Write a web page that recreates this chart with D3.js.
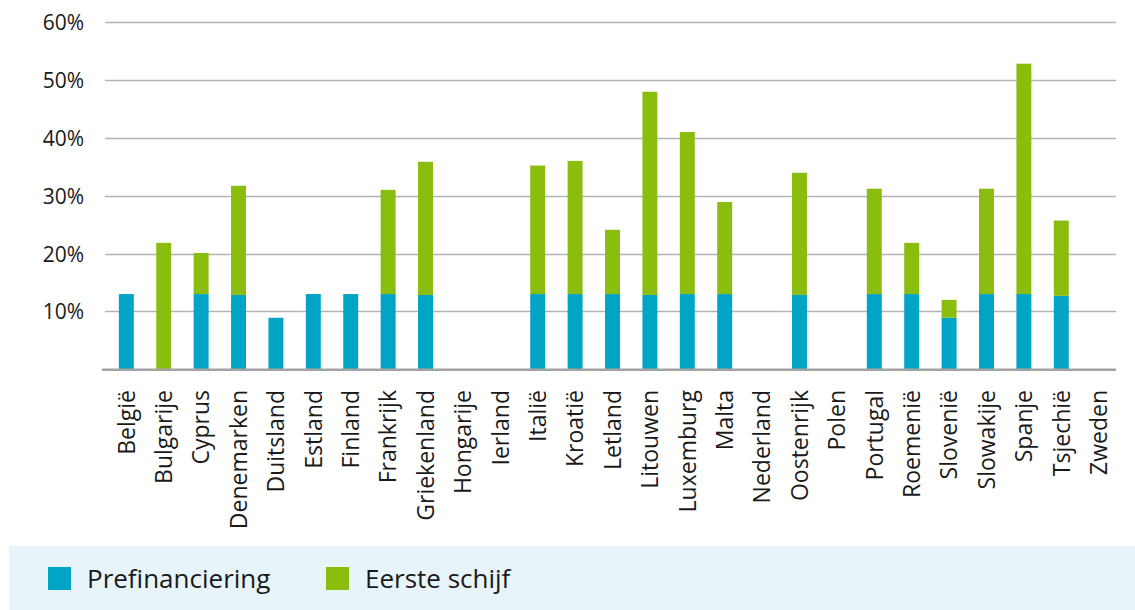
<!DOCTYPE html>
<html lang="nl">
<head>
<meta charset="UTF-8">
<title>Prefinanciering en eerste schijf per lidstaat</title>
<style>
    body {
        margin: 0;
        padding: 0;
        background: #ffffff;
        font-family: "Open Sans", Arial, sans-serif;
    }
    .grid line { stroke: #b3b3b3; stroke-width: 1.5px; }
    .y-label { font-size: 21px; fill: #1a1a1a; }
    .x-label { font-size: 23px; fill: #1a1a1a; }
    .legend-text { font-size: 26px; fill: #1a1a1a; }
</style>
</head>
<body>
<div id="chart"></div>
<script src="https://cdnjs.cloudflare.com/ajax/libs/d3/7.8.5/d3.min.js"></script>
<script>
    // Lidstaten
    const countries = ["België", "Bulgarije", "Cyprus", "Denemarken", "Duitsland", "Estland", "Finland",
        "Frankrijk", "Griekenland", "Hongarije", "Ierland", "Italië", "Kroatië", "Letland", "Litouwen",
        "Luxemburg", "Malta", "Nederland", "Oostenrijk", "Polen", "Portugal", "Roemenië", "Slovenië",
        "Slowakije", "Spanje", "Tsjechië", "Zweden"];

    // percentages
    const prefinanciering = [13.0, 0, 13.0, 12.85, 8.9, 13.0, 13.0, 13.0, 12.85, 0, 0, 13.0, 13.0, 13.0,
        12.85, 13.0, 13.0, 0, 12.85, 0, 13.0, 13.0, 8.9, 13.0, 13.0, 12.7, 0];
    const eersteSchijf = [0, 21.85, 7.1, 18.85, 0, 0, 0, 18.0, 23.0, 0, 0, 22.2, 23.0, 11.1, 35.1,
        28.0, 15.9, 0, 21.1, 0, 18.2, 8.85, 3.1, 18.2, 39.8, 13.0, 0];

    const seriesNames = ["Prefinanciering", "Eerste schijf"];
    const yTicks = [10, 20, 30, 40, 50, 60];

    const colors = { "Prefinanciering": "#00a4c5", "Eerste schijf": "#8bbd0e" };

    const width = 1135, height = 610;

    const svg = d3.select('#chart')
        .append('svg')
        .attr('width', width)
        .attr('height', height);

    const x = d3.scaleBand()
        .domain(countries)
        .range([108, 1117])
        .paddingInner(0.6)
        .paddingOuter(0.29);

    const y = d3.scaleLinear()
        .domain([0, 60])
        .range([369.3, 22]);

    // gridlines
    svg.append('g')
        .attr('class', 'grid')
        .selectAll('line')
        .data(yTicks)
        .enter()
        .append('line')
        .attr('x1', 105)
        .attr('x2', 1116)
        .attr('y1', d => Math.round(y(d)) + 0.5)
        .attr('y2', d => Math.round(y(d)) + 0.5);

    // y labels
    svg.append('g')
        .selectAll('text')
        .data(yTicks)
        .enter()
        .append('text')
        .attr('class', 'y-label')
        .attr('x', 84)
        .attr('y', d => y(d))
        .attr('dy', '0.38em')
        .attr('text-anchor', 'end')
        .text(d => d + '%');

    // stacked bars
    const table = countries.map((c, i) => ({
        country: c,
        "Prefinanciering": prefinanciering[i],
        "Eerste schijf": eersteSchijf[i]
    }));

    const stacked = d3.stack().keys(seriesNames)(table);

    svg.append('g')
        .selectAll('g')
        .data(stacked)
        .enter()
        .append('g')
        .attr('fill', d => colors[d.key])
        .selectAll('rect')
        .data(d => d)
        .enter()
        .append('rect')
        .attr('x', d => x(d.data.country))
        .attr('width', x.bandwidth())
        .attr('y', d => y(d[1]))
        .attr('height', d => y(d[0]) - y(d[1]));

    // baseline
    svg.append('line')
        .attr('x1', 102)
        .attr('x2', 1116)
        .attr('y1', y(0) + 0.5)
        .attr('y2', y(0) + 0.5)
        .attr('stroke', '#a3a3a3')
        .attr('stroke-width', 2.5);

    // x labels, rotated
    svg.append('g')
        .selectAll('text')
        .data(countries)
        .enter()
        .append('text')
        .attr('class', 'x-label')
        .attr('text-anchor', 'end')
        .attr('transform', d => `translate(${x(d) + x.bandwidth() / 2}, 390) rotate(-90)`)
        .attr('dy', '0.36em')
        .text(d => d);

    // legend
    const legend = svg.append('g');
    legend.append('rect')
        .attr('x', 9)
        .attr('y', 546)
        .attr('width', width - 9)
        .attr('height', height - 546)
        .attr('fill', '#e7f4f9');

    const legendX = [48, 326];
    seriesNames.forEach((name, i) => {
        legend.append('rect')
            .attr('x', legendX[i])
            .attr('y', 567)
            .attr('width', 23)
            .attr('height', 23)
            .attr('fill', colors[name]);
        legend.append('text')
            .attr('class', 'legend-text')
            .attr('x', legendX[i] + 39)
            .attr('y', 588)
            .text(name);
    });
</script>
</body>
</html>
